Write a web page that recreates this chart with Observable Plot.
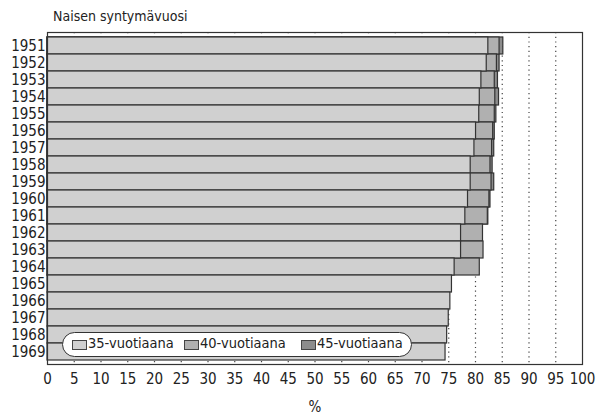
<!DOCTYPE html>
<html>
<head>
<meta charset="utf-8">
<script src="https://cdn.jsdelivr.net/npm/d3@7"></script>
<script src="https://cdn.jsdelivr.net/npm/@observablehq/plot@0.6"></script>
<style>
  body { margin: 0; background: #fff; font-family: "DejaVu Sans Condensed", "Liberation Sans Narrow", sans-serif; }
  #wrap { position: relative; width: 597px; height: 419px; }
  #title { position: absolute; left: 53px; top: 8px; font-size: 14px; color: #222; white-space: nowrap; }
  #chart { position: absolute; left: 0; top: 24px; }
  #legend { position: absolute; left: 62px; top: 332px; width: 350px; height: 25px; box-sizing: border-box;
    border: 1.2px solid #333; border-radius: 13px; background: #fff; font-size: 14.5px; color: #222; }
  .sw { position: absolute; top: 7px; width: 15px; height: 10px; border: 1px solid #444; box-sizing: border-box; }
  .lab { position: absolute; top: 2px; white-space: nowrap; }
</style>
</head>
<body>
<div id="wrap">
  <div id="title">Naisen syntymävuosi</div>
  <div id="chart"></div>
  <div id="legend"></div>
</div>
<script>
const years = ["1951","1952","1953","1954","1955","1956","1957","1958","1959","1960","1961","1962","1963","1964","1965","1966","1967","1968","1969"];
const at35 = [82.4, 82.1, 81.1, 80.8, 80.7, 80.1, 79.8, 79.1, 79.1, 78.6, 78.1, 77.3, 77.3, 76.1, 75.6, 75.3, 75.0, 74.7, 74.4];
const at40 = [84.5, 84.0, 83.6, 83.7, 83.6, 83.3, 83.1, 82.8, 83.0, 82.6, 82.3, 81.4, 81.5, 80.8, null, null, null, null, null];
const at45 = [85.2, 84.5, 84.2, 84.4, 83.9, 83.6, 83.5, 83.2, 83.5, 82.8, 82.4, null, null, null, null, null, null, null, null];
const seriesNames = ["35-vuotiaana", "40-vuotiaana", "45-vuotiaana"];
const seriesColors = ["#d0d0d0", "#b0b0b0", "#8c8c8c"];
const xTicks = [0,5,10,15,20,25,30,35,40,45,50,55,60,65,70,75,80,85,90,95,100];

const rows = (arr, s) => years.map((y, i) => ({year: y, value: arr[i], series: s})).filter(d => d.value != null);
const d45 = rows(at45, seriesNames[2]);
const d40 = rows(at40, seriesNames[1]);
const d35 = rows(at35, seriesNames[0]);

const plot = Plot.plot({
  width: 597,
  height: 395,
  marginTop: 8,
  marginBottom: 55,
  marginLeft: 47,
  marginRight: 15,
  style: { fontFamily: '"DejaVu Sans Condensed", "Liberation Sans Narrow", sans-serif', fontSize: "15px", color: "#222", background: "#fff" },
  x: { domain: [0, 100], ticks: xTicks, tickSize: 0, tickPadding: 9, label: "%", labelAnchor: "center", labelArrow: "none", labelOffset: 47 },
  y: { domain: years, padding: 0, tickSize: 0, tickPadding: 2, label: null },
  color: { domain: seriesNames, range: seriesColors },
  marks: [
    Plot.ruleX(xTicks.filter(t => t > 0 && t < 100), { stroke: "#444", strokeWidth: 1.2, strokeDasharray: "1.2,3.5" }),
    Plot.barX(d45, { y: "year", x1: 0, x2: "value", fill: "series", stroke: "#333", strokeWidth: 1.2, inset: 0 }),
    Plot.barX(d40, { y: "year", x1: 0, x2: "value", fill: "series", stroke: "#333", strokeWidth: 1.2, inset: 0 }),
    Plot.barX(d35, { y: "year", x1: 0, x2: "value", fill: "series", stroke: "#333", strokeWidth: 1.2, inset: 0 }),
    Plot.frame({ stroke: "#333", strokeWidth: 1.2 })
  ]
});
document.getElementById("chart").appendChild(plot);

const legend = document.getElementById("legend");
const swatchLeft = [9, 121, 238];
seriesNames.forEach((n, i) => {
  const sw = document.createElement("span");
  sw.className = "sw";
  sw.style.left = swatchLeft[i] + "px";
  sw.style.background = seriesColors[i];
  legend.appendChild(sw);
  const lab = document.createElement("span");
  lab.className = "lab";
  lab.style.left = (swatchLeft[i] + 16) + "px";
  lab.textContent = n;
  legend.appendChild(lab);
});
</script>
</body>
</html>
